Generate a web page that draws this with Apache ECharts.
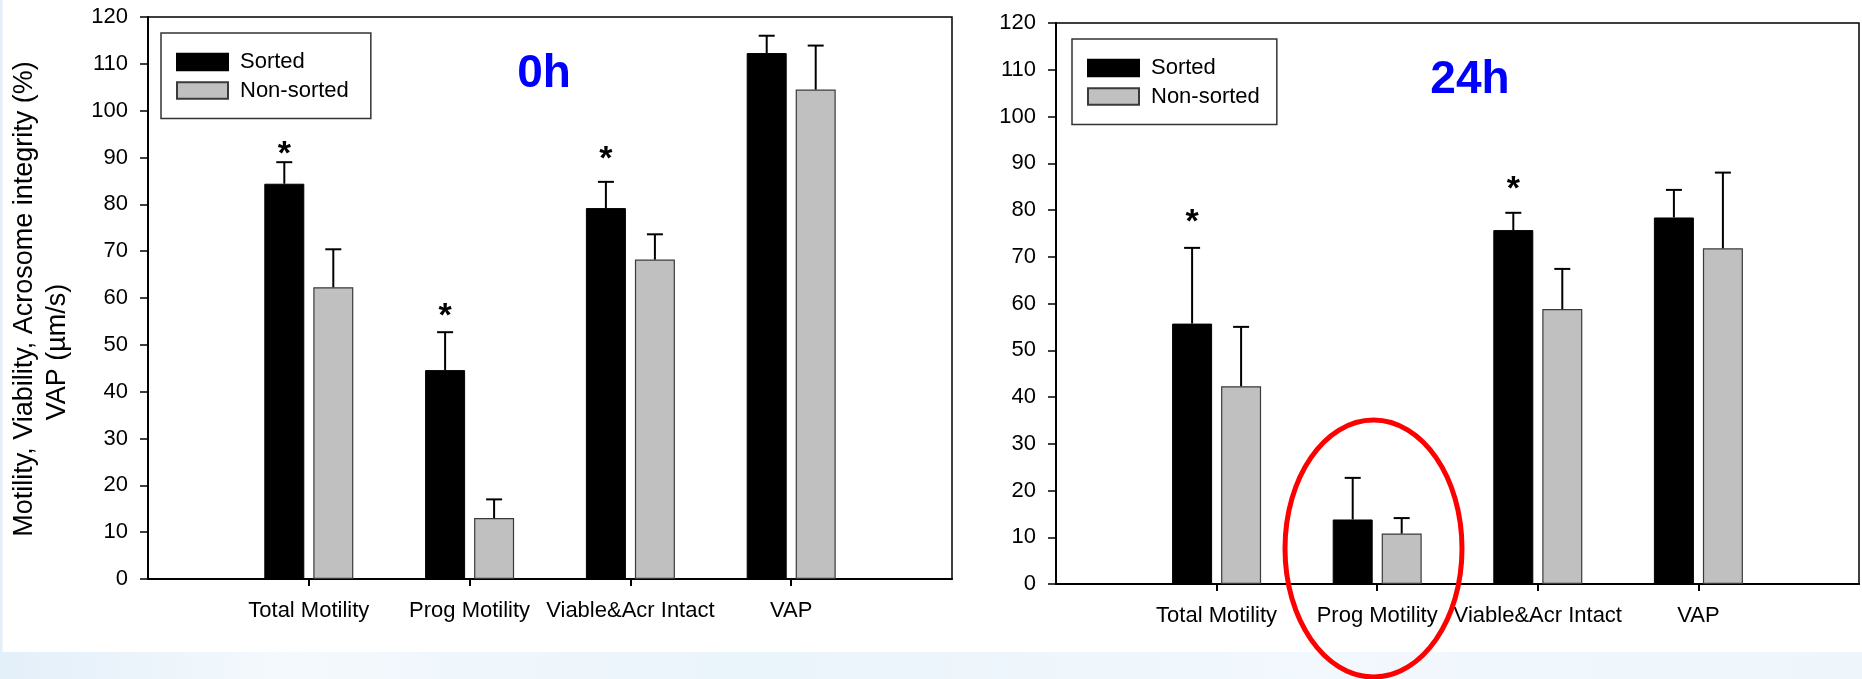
<!DOCTYPE html>
<html><head><meta charset="utf-8">
<script src="https://cdn.jsdelivr.net/npm/echarts@6/dist/echarts.min.js"></script>
<style>html,body{margin:0;padding:0;background:#fff}#c{width:1862px;height:679px}</style>
</head><body><div id="c"></div>
<script>
// ---------------- data ----------------
const categories = ['Total Motility', 'Prog Motility', 'Viable&Acr Intact', 'VAP'];
const seriesNames = ['Sorted', 'Non-sorted'];
const panelTitles = ['0h', '24h'];
const yTitleLines = ['Motility, Viability, Acrosome integrity (%)', 'VAP (\u00b5m/s)'];
const yMin = 0, yMax = 120, yStep = 10;

const sorted0h = [84.4, 44.6, 79.2, 112.3];
const sorted0hErr = [4.6, 8.1, 5.6, 3.7];
const nonSorted0h = [62.3, 13.0, 68.2, 104.5];
const nonSorted0hErr = [8.1, 4.0, 5.4, 9.4];
const stars0h = [92.3, 57.8, 91.2, null];

const sorted24h = [55.7, 13.8, 75.7, 78.4];
const sorted24hErr = [16.2, 8.9, 3.7, 5.9];
const nonSorted24h = [42.3, 10.8, 58.8, 71.8];
const nonSorted24hErr = [12.7, 3.3, 8.6, 16.2];
const stars24h = [79.0, null, 86.1, null];

// ---------------- styles ----------------
const FONT = "'Liberation Sans', Arial, sans-serif";
const BAR_W = 40, BAR_GAP = 9, CAP = 16;
const OFFSET = (BAR_W + BAR_GAP) / 2;
const BLACK = '#000000', GRAY = '#c0c0c0', GRAY_EDGE = '#3a3a3a';

const paddedCats = [''].concat(categories, ['']);
const pad = arr => [null].concat(arr, [null]);

function errRender(offset) {
  return function (params, api) {
    const x = api.value(0), v = api.value(1), e = api.value(2);
    const p0 = api.coord([x, v]);
    const p1 = api.coord([x, v + e]);
    const cx = p0[0] + offset;
    return {
      type: 'group',
      children: [
        { type: 'line', shape: { x1: cx, y1: p0[1], x2: cx, y2: p1[1] }, style: { stroke: '#000', lineWidth: 2 } },
        { type: 'line', shape: { x1: cx - CAP / 2, y1: p1[1], x2: cx + CAP / 2, y2: p1[1] }, style: { stroke: '#000', lineWidth: 2 } }
      ]
    };
  };
}
function starRender(params, api) {
  const p = api.coord([api.value(0), api.value(1)]);
  return {
    type: 'text',
    style: { text: '*', x: p[0] - OFFSET, y: p[1] + 8, textAlign: 'center', textVerticalAlign: 'middle',
      font: 'bold 34px ' + FONT, fill: '#000' }
  };
}

function errData(vals, errs) { return vals.map((v, i) => [i + 1, v, errs[i]]); }
function starData(stars) { return stars.map((v, i) => v == null ? null : [i + 1, v]).filter(Boolean); }

const grids = [
  { left: 148, top: 17, width: 804, height: 562 },
  { left: 1056, top: 23, width: 803, height: 561 }
];

function xAxisFor(gi) {
  return {
    type: 'category', gridIndex: gi, data: paddedCats, boundaryGap: false,
    axisLine: { show: true, lineStyle: { color: '#000', width: 2 } },
    axisTick: { show: true, length: 7, interval: (idx) => idx >= 1 && idx <= categories.length, lineStyle: { color: '#000', width: 2 } },
    axisLabel: { interval: 0, hideOverlap: false, color: '#000', fontSize: 22, fontFamily: FONT, margin: 21 },
    splitLine: { show: false }
  };
}
function yAxisFor(gi) {
  return {
    type: 'value', gridIndex: gi, min: yMin, max: yMax, interval: yStep,
    axisLine: { show: true, lineStyle: { color: '#000', width: 2 } },
    axisTick: { show: true, length: 8, lineStyle: { color: '#000', width: 1.5 } },
    axisLabel: { color: '#000', fontSize: 22, fontFamily: FONT, margin: 20 },
    splitLine: { show: false }
  };
}

const panels = [
  { s: sorted0h, se: sorted0hErr, n: nonSorted0h, ne: nonSorted0hErr, st: stars0h },
  { s: sorted24h, se: sorted24hErr, n: nonSorted24h, ne: nonSorted24hErr, st: stars24h }
];

const series = [];
panels.forEach((p, gi) => {
  series.push({ name: seriesNames[0], type: 'bar', xAxisIndex: gi, yAxisIndex: gi, data: pad(p.s),
    barWidth: BAR_W, barGap: (BAR_GAP / BAR_W * 100) + '%',
    itemStyle: { color: BLACK, borderColor: BLACK, borderWidth: 1 }, z: 2 });
  series.push({ name: seriesNames[1], type: 'bar', xAxisIndex: gi, yAxisIndex: gi, data: pad(p.n),
    barWidth: BAR_W, barGap: (BAR_GAP / BAR_W * 100) + '%',
    itemStyle: { color: GRAY, borderColor: GRAY_EDGE, borderWidth: 1.2 }, z: 2 });
  series.push({ name: 'errS' + gi, type: 'custom', xAxisIndex: gi, yAxisIndex: gi, data: errData(p.s, p.se),
    renderItem: errRender(-OFFSET), z: 5, silent: true });
  series.push({ name: 'errN' + gi, type: 'custom', xAxisIndex: gi, yAxisIndex: gi, data: errData(p.n, p.ne),
    renderItem: errRender(OFFSET), z: 5, silent: true });
  series.push({ name: 'star' + gi, type: 'custom', xAxisIndex: gi, yAxisIndex: gi, data: starData(p.st),
    renderItem: starRender, z: 5, silent: true });
});

function legendFor(left, top, padding) {
  return {
    data: seriesNames.map(n => ({ name: n, icon: 'rect' })),
    orient: 'vertical', left: left, top: top, padding: padding,
    itemWidth: 51, itemHeight: 16.5, itemGap: 6.5,
    borderColor: '#333', borderWidth: 1.5, backgroundColor: '#fff',
    selectedMode: false,
    textStyle: { fontSize: 22, fontFamily: FONT, color: '#000', lineHeight: 22, padding: [0, 0, 0, 7] }
  };
}

const option = {
  animation: false,
  backgroundColor: '#ffffff',
  grid: grids.map(g => Object.assign({ show: true, borderColor: '#000', borderWidth: 1.5, backgroundColor: 'transparent' }, g)),
  xAxis: [xAxisFor(0), xAxisFor(1)],
  yAxis: [yAxisFor(0), yAxisFor(1)],
  legend: [legendFor(161, 33, [18, 22, 17, 15]), legendFor(1072, 39, [18, 17, 17, 15])],
  series: series,
  graphic: [
    { type: 'rect', silent: true, z: -10, shape: { x: 0, y: 652, width: 1862, height: 27 },
      style: { fill: new echarts.graphic.LinearGradient(0, 0, 1, 0, [
        { offset: 0, color: '#e3eff9' }, { offset: 0.15, color: '#f4f9fd' }, { offset: 0.4, color: '#eaf4fb' },
        { offset: 0.7, color: '#f2f8fd' }, { offset: 1, color: '#eef6fc' }]) } },
    { type: 'rect', silent: true, z: -10, shape: { x: 0, y: 0, width: 2.5, height: 652 }, style: { fill: '#e3f0fa' } },
    { type: 'text', silent: true, x: 25, y: 299, rotation: Math.PI / 2,
      style: { text: yTitleLines[0], textAlign: 'center', textVerticalAlign: 'middle', font: '27px ' + FONT, fill: '#000' } },
    { type: 'text', silent: true, x: 57.5, y: 352, rotation: Math.PI / 2,
      style: { text: yTitleLines[1], textAlign: 'center', textVerticalAlign: 'middle', font: '27px ' + FONT, fill: '#000' } },
    { type: 'text', silent: true, x: 544, y: 74,
      style: { text: panelTitles[0], textAlign: 'center', textVerticalAlign: 'middle', font: 'bold 46px ' + FONT, fill: '#0000ff' } },
    { type: 'text', silent: true, x: 1470, y: 80,
      style: { text: panelTitles[1], textAlign: 'center', textVerticalAlign: 'middle', font: 'bold 46px ' + FONT, fill: '#0000ff' } },
    { type: 'ellipse', silent: true, z: 100, shape: { cx: 1373.5, cy: 548.5, rx: 88.5, ry: 128.5 },
      style: { fill: 'none', stroke: '#ff0000', lineWidth: 5 } }
  ]
};

const chart = echarts.init(document.getElementById('c'), null, { renderer: 'canvas' });
chart.setOption(option);
</script>
</body></html>
